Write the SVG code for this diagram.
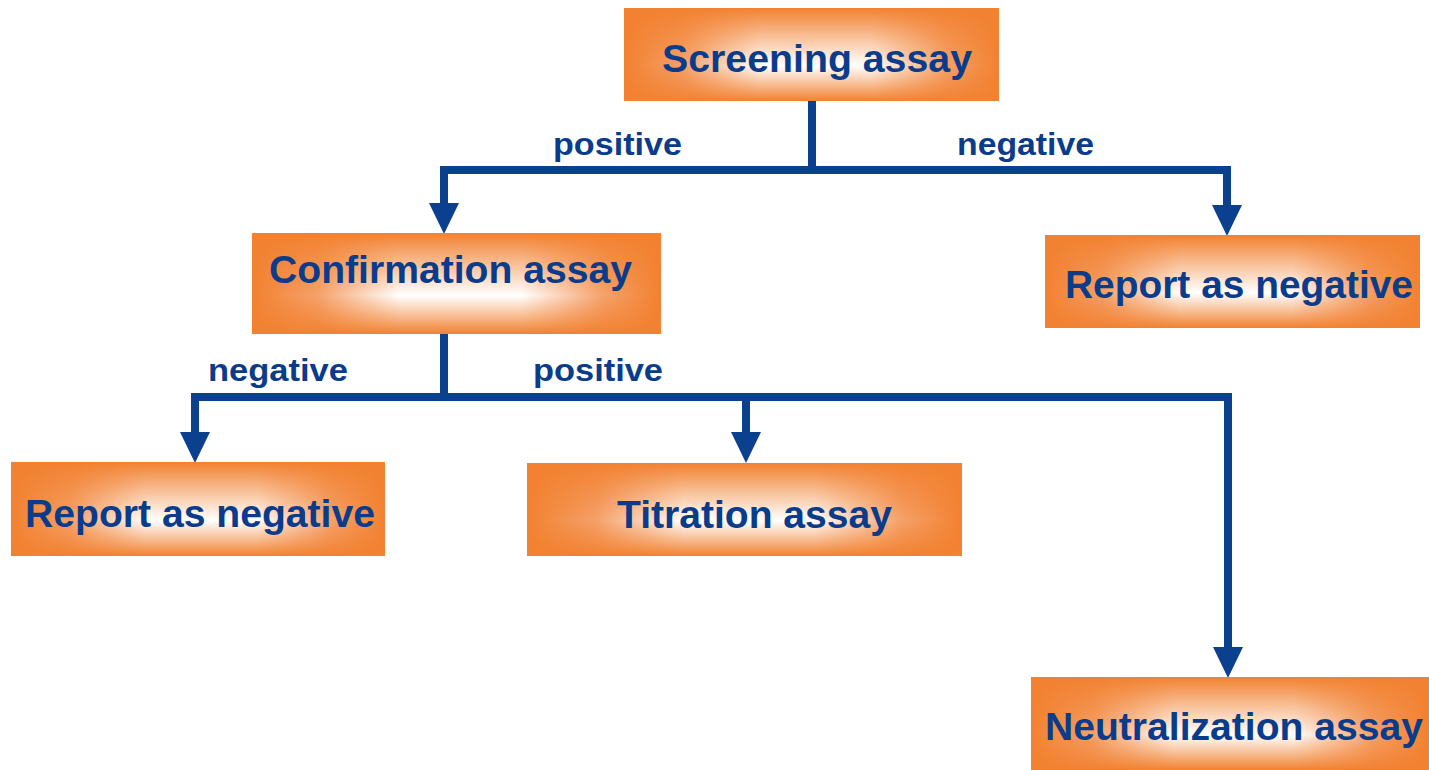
<svg xmlns="http://www.w3.org/2000/svg" width="1429" height="770" viewBox="0 0 1429 770">
<defs>
<linearGradient id="gh" x1="0" y1="0" x2="1" y2="0">
<stop offset="0" stop-color="#f28130"/>
<stop offset="0.16" stop-color="#f5a16a"/>
<stop offset="0.36" stop-color="#ffffff"/>
<stop offset="0.66" stop-color="#ffffff"/>
<stop offset="0.86" stop-color="#f5a16a"/>
<stop offset="1" stop-color="#f28130"/>
</linearGradient>
<linearGradient id="gv" x1="0" y1="0" x2="0" y2="1">
<stop offset="0" stop-color="#f28130" stop-opacity="1"/>
<stop offset="0.25" stop-color="#f28130" stop-opacity="0.6"/>
<stop offset="0.62" stop-color="#f28130" stop-opacity="0"/>
<stop offset="0.85" stop-color="#f28130" stop-opacity="0.6"/>
<stop offset="1" stop-color="#f28130" stop-opacity="1"/>
</linearGradient>
<marker id="arr" markerUnits="userSpaceOnUse" markerWidth="31" markerHeight="30" viewBox="0 0 31 30" refX="0" refY="15" orient="auto">
<path d="M0,0 L31,15 L0,30 z" fill="#0b408f"/>
</marker>
<style>
.bh{fill:url(#gh)}
.bv{fill:url(#gv)}
.t{font-family:"Liberation Sans",Arial,sans-serif;font-weight:bold;font-size:38px;fill:#0a3c8b}
.l{font-family:"Liberation Sans",Arial,sans-serif;font-weight:bold;font-size:32px;fill:#0a3c8b}
.c{fill:none;stroke:#0b408f;stroke-width:8;stroke-linejoin:miter;marker-end:url(#arr)}
</style>
</defs>
<rect width="1429" height="770" fill="#ffffff"/>
<g id="connectors">
<path class="c" d="M812,101 V170 H444 V203"/>
<path class="c" d="M812,101 V170 H1227 V205"/>
<path class="c" d="M444,334 V397 H195 V432"/>
<path class="c" d="M444,334 V397 H746 V432"/>
<path class="c" d="M444,334 V397 H1228 V647"/>
</g>
<g id="edge-labels">
<text class="l" x="553" y="155" textLength="129" lengthAdjust="spacingAndGlyphs">positive</text>
<text class="l" x="957" y="155" textLength="137" lengthAdjust="spacingAndGlyphs">negative</text>
<text class="l" x="208" y="381" textLength="140" lengthAdjust="spacingAndGlyphs">negative</text>
<text class="l" x="533" y="381" textLength="130" lengthAdjust="spacingAndGlyphs">positive</text>
</g>
<g id="screening">
<rect class="bh" x="624" y="8" width="375" height="93"/>
<rect class="bv" x="624" y="8" width="375" height="93"/>
<text class="t" x="662" y="72" textLength="310" lengthAdjust="spacingAndGlyphs">Screening assay</text>
</g>
<g id="confirmation">
<rect class="bh" x="252" y="233" width="409" height="101"/>
<rect class="bv" x="252" y="233" width="409" height="101"/>
<text class="t" x="269" y="283" textLength="363" lengthAdjust="spacingAndGlyphs">Confirmation assay</text>
</g>
<g id="report-negative-1">
<rect class="bh" x="1045" y="235" width="375" height="93"/>
<rect class="bv" x="1045" y="235" width="375" height="93"/>
<text class="t" x="1065" y="298" textLength="348" lengthAdjust="spacingAndGlyphs">Report as negative</text>
</g>
<g id="report-negative-2">
<rect class="bh" x="11" y="462" width="374" height="94"/>
<rect class="bv" x="11" y="462" width="374" height="94"/>
<text class="t" x="25" y="527" textLength="350" lengthAdjust="spacingAndGlyphs">Report as negative</text>
</g>
<g id="titration">
<rect class="bh" x="527" y="463" width="435" height="93"/>
<rect class="bv" x="527" y="463" width="435" height="93"/>
<text class="t" x="617" y="528" textLength="275" lengthAdjust="spacingAndGlyphs">Titration assay</text>
</g>
<g id="neutralization">
<rect class="bh" x="1031" y="677" width="398" height="93"/>
<rect class="bv" x="1031" y="677" width="398" height="93"/>
<text class="t" x="1045" y="740" textLength="378" lengthAdjust="spacingAndGlyphs">Neutralization assay</text>
</g>
</svg>
